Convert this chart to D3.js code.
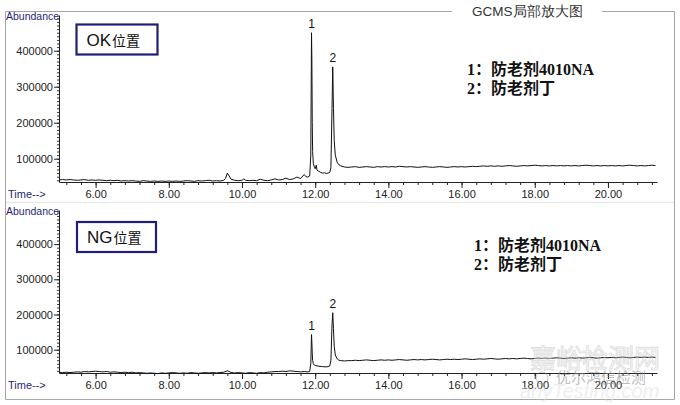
<!DOCTYPE html>
<html><head><meta charset="utf-8">
<script src="https://cdn.jsdelivr.net/npm/d3@7/dist/d3.min.js"></script>
<style>body{margin:0;background:#fff}svg{display:block}</style>
</head><body>
<svg id="c" width="680" height="405"></svg>
<script>
// Abundance in thousands vs time (min)
const okTrace = [
[5.0,41],[5.1,42],[5.2,41],[5.3,42],[5.4,41],[5.5,40],[5.6,41],[5.7,42],[5.8,40],[5.9,41],
[6.0,40],[6.1,41],[6.2,40],[6.3,39],[6.4,40],[6.5,39],[6.6,40],[6.7,38],[6.8,39],[6.9,38],
[7.0,39],[7.1,38],[7.2,37],[7.3,39],[7.4,38],[7.5,37],[7.6,38],[7.7,37],[7.8,38],[7.9,37],
[8.0,38],[8.1,37],[8.2,38],[8.3,37],[8.4,38],[8.5,39],[8.6,38],[8.7,37],[8.8,39],[8.9,38],
[9.0,39],[9.1,40],[9.2,38],[9.3,39],[9.4,38],[9.5,40],[9.55,45],[9.6,60],[9.65,52],[9.7,43],[9.8,40],[9.9,39],
[10.0,40],[10.05,44],[10.1,40],[10.2,39],[10.3,40],[10.4,39],[10.5,43],[10.6,40],[10.7,39],[10.8,41],[10.9,44],
[11.0,41],[11.1,42],[11.2,46],[11.3,42],[11.4,44],[11.5,49],[11.6,45],[11.7,56],[11.75,50],[11.8,49],[11.85,52],
[11.88,110],[11.9,450],[11.91,370],[11.92,200],[11.93,120],[11.95,86],[11.98,76],[12.0,72],[12.03,82],[12.05,68],
[12.1,65],[12.15,62],[12.2,60],[12.25,61],[12.3,59],[12.35,60],[12.4,62],[12.43,75],[12.46,240],[12.48,355],
[12.5,240],[12.52,150],[12.55,110],[12.6,90],[12.65,83],[12.7,80],[12.8,77],[12.9,76],
[13.0,77],[13.1,78],[13.2,76],[13.3,77],[13.4,78],[13.5,77],[13.6,76],[13.7,78],[13.8,77],[13.9,78],
[14.0,77],[14.1,78],[14.2,77],[14.3,79],[14.4,78],[14.5,77],[14.6,78],[14.7,77],[14.8,76],[14.9,77],
[15.0,78],[15.1,77],[15.2,76],[15.3,77],[15.4,78],[15.5,77],[15.6,76],[15.7,77],[15.8,78],[15.9,77],
[16.0,78],[16.1,77],[16.2,78],[16.3,79],[16.4,78],[16.5,79],[16.6,80],[16.7,79],[16.8,80],[16.9,79],
[17.0,80],[17.1,79],[17.2,80],[17.3,81],[17.4,80],[17.5,79],[17.6,80],[17.7,81],[17.8,80],[17.9,81],
[18.0,82],[18.1,81],[18.2,80],[18.3,81],[18.4,80],[18.5,81],[18.6,80],[18.7,81],[18.8,80],[18.9,81],
[19.0,80],[19.1,81],[19.2,80],[19.3,81],[19.4,82],[19.5,81],[19.6,80],[19.7,81],[19.8,80],[19.9,81],
[20.0,80],[20.1,81],[20.2,80],[20.3,81],[20.4,80],[20.5,81],[20.6,82],[20.7,81],[20.8,80],[20.9,81],
[21.0,80],[21.1,81],[21.2,82],[21.3,81]
];
const ngTrace = [
[5.0,36],[5.1,35],[5.2,36],[5.3,35],[5.4,36],[5.5,37],[5.6,36],[5.7,38],[5.8,37],[5.9,38],
[6.0,39],[6.1,38],[6.2,37],[6.3,38],[6.4,36],[6.5,37],[6.6,36],[6.7,35],[6.8,36],[6.9,35],
[7.0,36],[7.1,34],[7.2,35],[7.3,34],[7.4,33],[7.5,34],[7.6,33],[7.7,32],[7.8,34],[7.9,33],
[8.0,34],[8.1,35],[8.2,34],[8.3,33],[8.4,34],[8.5,33],[8.6,35],[8.7,34],[8.8,33],[8.9,34],
[9.0,35],[9.1,34],[9.2,35],[9.3,34],[9.4,35],[9.5,36],[9.6,40],[9.65,38],[9.7,35],[9.8,34],[9.9,35],
[10.0,34],[10.1,33],[10.2,35],[10.3,34],[10.4,33],[10.5,35],[10.6,34],[10.7,36],[10.8,37],[10.9,38],
[11.0,38],[11.1,39],[11.2,38],[11.3,40],[11.4,39],[11.5,38],[11.6,37],[11.7,38],[11.8,37],[11.85,38],
[11.88,60],[11.9,143],[11.91,120],[11.92,90],[11.93,70],[11.95,60],[11.98,56],[12.0,55],[12.05,54],
[12.1,53],[12.2,52],[12.3,51],[12.35,52],[12.4,54],[12.43,70],[12.46,170],[12.48,205],
[12.5,160],[12.52,110],[12.55,85],[12.6,74],[12.65,70],[12.7,69],[12.8,68],[12.9,69],
[13.0,69],[13.1,70],[13.2,69],[13.3,70],[13.4,71],[13.5,70],[13.6,69],[13.7,70],[13.8,71],[13.9,70],
[14.0,71],[14.1,70],[14.2,71],[14.3,72],[14.4,71],[14.5,70],[14.6,71],[14.7,72],[14.8,71],[14.9,72],
[15.0,71],[15.1,72],[15.2,73],[15.3,72],[15.4,71],[15.5,72],[15.6,73],[15.7,72],[15.8,73],[15.9,72],
[16.0,73],[16.1,74],[16.2,73],[16.3,72],[16.4,73],[16.5,74],[16.6,73],[16.7,74],[16.8,75],[16.9,74],
[17.0,73],[17.1,74],[17.2,75],[17.3,74],[17.4,75],[17.5,74],[17.6,75],[17.7,76],[17.8,75],[17.9,74],
[18.0,75],[18.1,76],[18.2,75],[18.3,76],[18.4,75],[18.5,76],[18.6,77],[18.7,76],[18.8,75],[18.9,76],
[19.0,77],[19.1,76],[19.2,77],[19.3,76],[19.4,77],[19.5,78],[19.6,77],[19.7,76],[19.8,77],[19.9,78],
[20.0,77],[20.1,78],[20.2,77],[20.3,78],[20.4,79],[20.5,78],[20.6,77],[20.7,78],[20.8,79],[20.9,78],
[21.0,79],[21.1,78],[21.2,79],[21.3,78]
];
const xTicks = [6, 8, 10, 12, 14, 16, 18, 20];
const yTicks = [100000, 200000, 300000, 400000];
const peakLabelsOK = [{t:11.9, v:450, label:"1"}, {t:12.48, v:355, label:"2"}];
const peakLabelsNG = [{t:11.9, v:143, label:"1"}, {t:12.48, v:205, label:"2"}];
const legendLines = ["1：防老剂4010NA", "2：防老剂丁"];
const panelNames = ["OK", "NG"];
const title = "GCMS局部放大图";

const svg = d3.select("#c");
const navy = "#1f1f7a";

// outer frame with title gap
svg.append("path").attr("d","M452,11.5 H5.5 V399.5 H674.5 V11.5 H602")
  .attr("fill","none").attr("stroke","#a6a6a6");
svg.append("line").attr("x1",6).attr("x2",674).attr("y1",202.5).attr("y2",202.5).attr("stroke","#e4e4e4");
svg.append("text").attr("x",472).attr("y",16).attr("font-family","Liberation Sans, Arial")
  .attr("font-size",13.5).attr("fill","#333").text(title);

function panel(cfg){
  const x = d3.scaleLinear().domain([5.0, 21.34]).range([59, 657]);
  const y = d3.scaleLinear().domain(cfg.yDomain).range([cfg.yBot, cfg.yTop]);
  const g = svg.append("g");
  // y axis
  const yMinor = d3.range(40000, cfg.yDomain[1], 10000);
  g.append("g").attr("transform",`translate(59,0)`)
    .call(d3.axisLeft(y).tickValues(yMinor).tickSize(2).tickFormat(""))
    .call(s=>s.select(".domain").remove())
    .call(s=>s.selectAll("line").attr("stroke","#333"));
  g.append("g").attr("transform",`translate(59,0)`)
    .call(d3.axisLeft(y).tickValues(yTicks).tickSize(5).tickPadding(1).tickSizeOuter(0).tickFormat(d3.format("d")))
    .call(s=>s.select(".domain").attr("stroke","#222"))
    .call(s=>s.selectAll("text").attr("font-family","Liberation Sans, Arial").attr("font-size",11).attr("fill","#222"))
    .call(s=>s.selectAll("line").attr("stroke","#222"));
  // x axis
  const xMinor = d3.range(5.2, 21.3, 0.4);
  g.append("g").attr("transform",`translate(0,${cfg.yBot})`)
    .call(d3.axisBottom(x).tickValues(xMinor).tickSize(3).tickFormat(""))
    .call(s=>s.select(".domain").remove())
    .call(s=>s.selectAll("line").attr("stroke","#222"));
  g.append("g").attr("transform",`translate(0,${cfg.yBot})`)
    .call(d3.axisBottom(x).tickValues(xTicks).tickSize(6).tickPadding(2).tickSizeOuter(0).tickFormat(d3.format(".2f")))
    .call(s=>s.select(".domain").attr("stroke","#222"))
    .call(s=>s.selectAll("text").attr("font-family","Liberation Sans, Arial").attr("font-size",11).attr("fill","#222"))
    .call(s=>s.selectAll("line").attr("stroke","#222"));
  g.append("text").attr("x",6).attr("y",cfg.yTop+5).attr("font-family","Liberation Sans, Arial")
    .attr("font-size",10.5).attr("fill",navy).text("Abundance");
  g.append("text").attr("x",8).attr("y",cfg.yBot+16).attr("font-family","Liberation Sans, Arial")
    .attr("font-size",11).attr("fill",navy).text("Time-->");
  // trace
  const line = d3.line().x(d=>x(d[0])).y(d=>y(d[1]*1000));
  g.append("path").datum(cfg.data).attr("d",line).attr("fill","none")
    .attr("stroke","#111").attr("stroke-width",1).attr("stroke-linejoin","round");
  // peak labels
  g.selectAll(".pk").data(cfg.peaks).join("text")
    .attr("x",d=>x(d.t)).attr("y",d=>y(d.v*1000)-5).attr("text-anchor","middle")
    .attr("font-family","Liberation Sans, Arial").attr("font-size",12).attr("fill","#111").text(d=>d.label);
  // name box
  g.append("rect").attr("x",cfg.box[0]).attr("y",cfg.box[1]).attr("width",cfg.box[2]).attr("height",30)
    .attr("fill","#fff").attr("stroke",navy).attr("stroke-width",2.2);
  const t = g.append("text").attr("x",cfg.box[0]+10).attr("y",cfg.box[1]+21).attr("fill","#111");
  t.append("tspan").attr("font-family","Liberation Sans, Arial").attr("font-size",17).text(cfg.name);
  t.append("tspan").attr("font-family","Noto Sans CJK SC").attr("font-size",14).attr("dx",1).text("位置");
  // legend
  g.selectAll(".lg").data(legendLines).join("text")
    .attr("x",cfg.legend[0]).attr("y",(d,i)=>cfg.legend[1]+i*19)
    .attr("font-family","Liberation Serif, Noto Sans CJK SC").attr("font-weight","bold")
    .attr("font-size",16).attr("fill","#111").text(d=>d);
}

panel({data: okTrace, peaks: peakLabelsOK, name: panelNames[0], yDomain:[35300, 499200], yBot:182, yTop:15,
  box:[76.5, 24.5, 81], legend:[467, 75]});
panel({data: ngTrace, peaks: peakLabelsNG, name: panelNames[1], yDomain:[33800, 496900], yBot:373, yTop:210,
  box:[77, 222, 79], legend:[474, 251]});

// watermark
const wm = svg.append("g").attr("opacity",0.55);
wm.append("text").attr("x",530).attr("y",368).attr("font-family","Noto Sans CJK SC").attr("font-size",26)
  .attr("fill","none").attr("stroke","#c8c8c8").attr("stroke-width",1).text("嘉峪检测网");
wm.append("circle").attr("cx",542).attr("cy",378).attr("r",6).attr("fill","none").attr("stroke","#999");
wm.append("text").attr("x",556).attr("y",383).attr("font-family","Noto Sans CJK SC").attr("font-size",15)
  .attr("fill","#888").text("优尔鸿信检测");
wm.append("text").attr("x",520).attr("y",398).attr("font-family","Liberation Sans").attr("font-style","italic")
  .attr("font-size",20).attr("fill","#e2e2e2").text("anyTesting.com");
</script>
</body></html>
